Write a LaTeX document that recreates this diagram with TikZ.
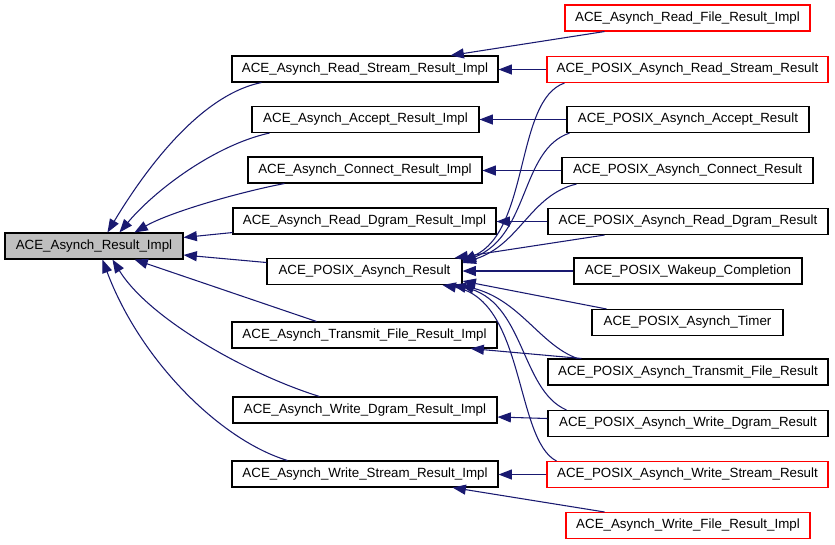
\documentclass[tikz,border=0pt]{standalone}
\usepackage{fontspec}
\setmainfont{Liberation Sans}
\usetikzlibrary{arrows.meta,calc}
\definecolor{edgeblue}{HTML}{191970}
\definecolor{rootgray}{HTML}{BFBFBF}
\definecolor{boxred}{HTML}{FF0000}
\begin{document}
\begin{tikzpicture}[x=0.75pt,y=-0.75pt,
  cls/.style={draw=black,line width=0.8pt,inner sep=0pt,minimum height=19.5pt,
    font=\fontsize{10}{12}\selectfont,anchor=center},
  redcls/.style={cls,draw=boxred},
  rootcls/.style={cls,fill=rootgray},
  bw/.style={minimum width=#1*0.75pt},
  inh/.style={draw=edgeblue,line width=0.8pt,-{Triangle[length=10pt,width=7.5pt]}},
]
\useasboundingbox (0,0) rectangle (835,544);
% nodes
\node[rootcls,bw=178] (root) at (94,246) {ACE\_Asynch\_Result\_Impl};
\node[cls,bw=266] (rsi) at (365,69) {ACE\_Asynch\_Read\_Stream\_Result\_Impl};
\node[cls,bw=227] (aci) at (365.5,119.5) {ACE\_Asynch\_Accept\_Result\_Impl};
\node[cls,bw=234] (coi) at (365,170) {ACE\_Asynch\_Connect\_Result\_Impl};
\node[cls,bw=263] (rdi) at (364.5,221) {ACE\_Asynch\_Read\_Dgram\_Result\_Impl};
\node[cls,bw=195] (par) at (364.5,271.5) {ACE\_POSIX\_Asynch\_Result};
\node[cls,bw=265] (tri) at (364.5,335) {ACE\_Asynch\_Transmit\_File\_Result\_Impl};
\node[cls,bw=264] (wdi) at (365,410) {ACE\_Asynch\_Write\_Dgram\_Result\_Impl};
\node[cls,bw=266] (wsi) at (365,474) {ACE\_Asynch\_Write\_Stream\_Result\_Impl};

\node[redcls,bw=245] (rfi) at (687.5,18) {ACE\_Asynch\_Read\_File\_Result\_Impl};
\node[redcls,bw=281] (prs) at (687.5,69.5) {ACE\_POSIX\_Asynch\_Read\_Stream\_Result};
\node[cls,bw=242] (pac) at (688,119.5) {ACE\_POSIX\_Asynch\_Accept\_Result};
\node[cls,bw=251] (pco) at (687.5,170.5) {ACE\_POSIX\_Asynch\_Connect\_Result};
\node[cls,bw=280] (prd) at (688,221.5) {ACE\_POSIX\_Asynch\_Read\_Dgram\_Result};
\node[cls,bw=228] (pwk) at (688,271) {ACE\_POSIX\_Wakeup\_Completion};
\node[cls,bw=191] (pti) at (687.5,322.5) {ACE\_POSIX\_Asynch\_Timer};
\node[cls,bw=280] (ptf) at (688,372) {ACE\_POSIX\_Asynch\_Transmit\_File\_Result};
\node[cls,bw=280] (pwd) at (688,423.5) {ACE\_POSIX\_Asynch\_Write\_Dgram\_Result};
\node[redcls,bw=281] (pws) at (687.5,474.5) {ACE\_POSIX\_Asynch\_Write\_Stream\_Result};
\node[redcls,bw=244] (wfi) at (688,525.5) {ACE\_Asynch\_Write\_File\_Result\_Impl};

% edges to root
\draw[inh] ($(rsi.south west)+(30,0)$) .. controls (200,95) and (145,170) .. ($(root.north west)+(103,0)$);
\draw[inh] ($(aci.south west)+(18,0)$) .. controls (215,145) and (155,190) .. ($(root.north west)+(115,0)$);
\draw[inh] ($(coi.south west)+(37,0)$) .. controls (240,192) and (170,212) .. ($(root.north west)+(130,0)$);
\draw[inh] ($(rdi.south west)+(0,-2)$) -- ($(root.north east)+(0,5)$);
\draw[inh] ($(par.west)+(0,-9)$) -- ($(root.east)+(0,9)$);
\draw[inh] ($(tri.north west)+(85,0)$) -- ($(root.south west)+(130,0)$);
\draw[inh] ($(wdi.north west)+(87,0)$) .. controls (250,375) and (150,320) .. ($(root.south west)+(108,0)$);
\draw[inh] ($(wsi.north west)+(56,0)$) .. controls (220,440) and (140,360) .. ($(root.south west)+(98,0)$);

% edges to the middle column
\draw[inh] ($(rfi.south west)+(40,0)$) -- ($(rsi.north east)+(-48,0)$);
\draw[inh] (prs.west) -- (prs.west -| rsi.east);
\draw[inh] (pac.west) -- (aci.east);
\draw[inh] (pco.west) -- (pco.west -| coi.east);
\draw[inh] (prd.west) -- (prd.west -| rdi.east);
\draw[inh] (pwk.west) -- (pwk.west -| par.east);
\draw[inh] ($(ptf.north west)+(34,0)$) -- ($(tri.south east)+(-27,0)$);
\draw[inh] ($(pwd.west)+(0,-5)$) -- ($(wdi.east)+(0,7)$);
\draw[inh] (pws.west) -- (pws.west -| wsi.east);
\draw[inh] ($(wfi.north west)+(39,0)$) -- ($(wsi.south east)+(-46,0)$);

% edges to ACE_POSIX_Asynch_Result
\draw[inh] ($(prs.south west)+(18,0)$) .. controls (515,100) and (530,230) .. ($(par.north east)+(0,3)$);
\draw[inh] ($(pac.south west)+(3,0)$) .. controls (520,150) and (530,235) .. ($(par.north east)+(0,4)$);
\draw[inh] ($(pco.south west)+(15,0)$) .. controls (530,195) and (520,245) .. ($(par.north east)+(0,5)$);
\draw[inh] ($(prd.south west)+(57,0)$) -- ($(par.north east)+(-8,0)$);
\draw[inh] ($(pti.north west)+(15,0)$) -- ($(par.south east)+(0,-4)$);
\draw[inh] ($(ptf.north west)+(30,0)$) .. controls (540,345) and (520,300) .. ($(par.south east)+(-2,0)$);
\draw[inh] ($(pwd.north west)+(19,0)$) .. controls (520,390) and (525,300) .. ($(par.south east)+(-10,0)$);
\draw[inh] ($(pws.north west)+(10,0)$) .. controls (515,440) and (525,300) .. ($(par.south east)+(-20,0)$);
\end{tikzpicture}
\end{document}
